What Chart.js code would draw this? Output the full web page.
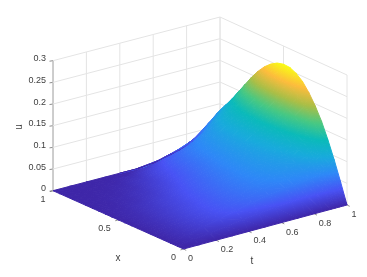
<!DOCTYPE html>
<html>
<head>
<meta charset="utf-8">
<style>html,body{margin:0;padding:0;background:#fff}canvas{display:block}</style>
<script src="https://cdn.jsdelivr.net/npm/chart.js@4/dist/chart.umd.min.js"></script>
</head>
<body>
<canvas id="c" width="367" height="277"></canvas>
<script>
// grid of the surface
const xValues = [0, 0.05, 0.1, 0.15, 0.2, 0.25, 0.3, 0.35, 0.4, 0.45, 0.5, 0.55, 0.6, 0.65, 0.7, 0.75, 0.8, 0.85, 0.9, 0.95, 1]
const tValues = [0, 0.1, 0.2, 0.3, 0.4, 0.5, 0.6, 0.7, 0.75, 0.8, 0.85, 0.9, 0.925, 0.95, 0.975, 1]
// one row per t, one column per x
const uRows = [
	[0, 0, 0, 0, 0, 0, 0, 0, 0, 0, 0, 0, 0, 0, 0, 0, 0, 0, 0, 0, 0],
	[0, 0.005, 0.008, 0.009, 0.009, 0.009, 0.008, 0.008, 0.007, 0.006, 0.005, 0.004, 0.003, 0.002, 0.001, 0.001, 0.0005, 0.0002, 0, 0, 0],
	[0, 0.01, 0.017, 0.019, 0.02, 0.02, 0.019, 0.018, 0.016, 0.015, 0.013, 0.011, 0.008, 0.006, 0.005, 0.003, 0.002, 0.001, 0.0005, 0.0002, 0],
	[0, 0.015, 0.026, 0.029, 0.03, 0.03, 0.029, 0.027, 0.026, 0.024, 0.022, 0.019, 0.016, 0.013, 0.011, 0.008, 0.006, 0.004, 0.002, 0.001, 0],
	[0, 0.021, 0.035, 0.039, 0.04, 0.04, 0.039, 0.038, 0.037, 0.035, 0.033, 0.03, 0.027, 0.024, 0.021, 0.018, 0.015, 0.011, 0.007, 0.002, 0],
	[0, 0.025, 0.043, 0.048, 0.05, 0.051, 0.051, 0.05, 0.049, 0.047, 0.045, 0.043, 0.04, 0.038, 0.035, 0.033, 0.03, 0.025, 0.018, 0.01, 0],
	[0, 0.029, 0.05, 0.056, 0.06, 0.061, 0.062, 0.062, 0.061, 0.06, 0.059, 0.057, 0.055, 0.053, 0.052, 0.05, 0.047, 0.041, 0.03, 0.017, 0.003],
	[0, 0.032, 0.055, 0.063, 0.068, 0.072, 0.074, 0.075, 0.075, 0.075, 0.074, 0.073, 0.072, 0.071, 0.069, 0.067, 0.063, 0.055, 0.042, 0.028, 0.012],
	[0, 0.033, 0.058, 0.067, 0.073, 0.077, 0.079, 0.081, 0.082, 0.082, 0.082, 0.082, 0.081, 0.08, 0.078, 0.076, 0.072, 0.064, 0.052, 0.034, 0.017],
	[0, 0.034, 0.06, 0.07, 0.077, 0.082, 0.085, 0.087, 0.089, 0.09, 0.091, 0.091, 0.091, 0.09, 0.088, 0.086, 0.082, 0.074, 0.062, 0.042, 0.024],
	[0, 0.035, 0.062, 0.074, 0.083, 0.089, 0.093, 0.097, 0.1, 0.102, 0.104, 0.105, 0.105, 0.104, 0.102, 0.1, 0.095, 0.087, 0.075, 0.054, 0.036],
	[0, 0.037, 0.066, 0.083, 0.096, 0.105, 0.112, 0.118, 0.123, 0.127, 0.129, 0.129, 0.128, 0.126, 0.122, 0.118, 0.112, 0.103, 0.09, 0.072, 0.052],
	[0, 0.038, 0.07, 0.091, 0.108, 0.12, 0.13, 0.138, 0.145, 0.15, 0.152, 0.151, 0.148, 0.143, 0.137, 0.13, 0.122, 0.111, 0.098, 0.08, 0.06],
	[0, 0.04, 0.075, 0.1, 0.122, 0.138, 0.152, 0.163, 0.172, 0.178, 0.18, 0.178, 0.174, 0.167, 0.158, 0.147, 0.135, 0.121, 0.106, 0.088, 0.068],
	[0, 0.043, 0.083, 0.118, 0.148, 0.172, 0.192, 0.207, 0.218, 0.224, 0.226, 0.223, 0.216, 0.205, 0.19, 0.174, 0.156, 0.137, 0.116, 0.096, 0.077],
	[0, 0.046, 0.09, 0.13, 0.166, 0.195, 0.219, 0.238, 0.25, 0.257, 0.258, 0.254, 0.245, 0.232, 0.215, 0.195, 0.172, 0.149, 0.126, 0.105, 0.085]
]
const zTicks = ['0', '0.05', '0.1', '0.15', '0.2', '0.25', '0.3']
const xTicks = ['0', '0.5', '1']
const tTicks = ['0', '0.2', '0.4', '0.6', '0.8', '1']
const zMax = 0.3

const gridColor = '#e4e4e4'
const axisColor = '#6e6e6e'
const textColor = '#404040'

// floor corners of the box on the page: [x=0,t=0] [x=1,t=0] [x=0,t=1] [x=1,t=1]
const corners = [[183.5, 249], [53, 190.7], [347, 205], [220, 147]]
const boxHeight = 130

function project(x, t, u) {
	let px = (1-x)*(1-t)*corners[0][0] + x*(1-t)*corners[1][0] + (1-x)*t*corners[2][0] + x*t*corners[3][0]
	let py = (1-x)*(1-t)*corners[0][1] + x*(1-t)*corners[1][1] + (1-x)*t*corners[2][1] + x*t*corners[3][1]
	return {x: px, y: py - u/zMax*boxHeight}
}

// parula
const parula = [
	[0, 62, 38, 168], [0.125, 72, 82, 244], [0.25, 46, 135, 247], [0.375, 24, 170, 220],
	[0.5, 10, 186, 185], [0.625, 72, 200, 130], [0.75, 170, 190, 70], [0.875, 252, 188, 60], [1, 249, 251, 20]
]
function parulaAt(v) {
	v = Math.min(1, Math.max(0, v))
	for (let i = 1; i < parula.length; i++) {
		if (v <= parula[i][0]) {
			let a = parula[i-1], b = parula[i], f = (v-a[0])/(b[0]-a[0])
			return 'rgb(' + [1,2,3].map(k => Math.round(a[k] + (b[k]-a[k])*f)).join(',') + ')'
		}
	}
	return 'rgb(249,251,20)'
}

const canvas = document.getElementById('c')
const ctx2d = canvas.getContext('2d')
const uMax = Math.max(...uRows.map(r => Math.max(...r)))

// gradient over one triangle so colour follows u across it, runs past the
// triangle up to the whole colormap so the border stays on the same plane
function triangleFill(pts, vals) {
	let mid = parulaAt((vals[0]+vals[1]+vals[2])/3/uMax)
	let ax = pts[1].x-pts[0].x, ay = pts[1].y-pts[0].y, bx = pts[2].x-pts[0].x, by = pts[2].y-pts[0].y
	let det = ax*by - ay*bx
	if (Math.abs(det) < 0.01) return mid
	let dv1 = vals[1]-vals[0], dv2 = vals[2]-vals[0]
	let gx = (dv1*by - dv2*ay)/det, gy = (ax*dv2 - bx*dv1)/det
	let g2 = gx*gx + gy*gy
	if (Math.sqrt(g2)*uMax < 1e-5 || g2 === 0) return mid
	let s = pts[0], v0 = vals[0]
	let grad = ctx2d.createLinearGradient(
		s.x - gx/g2*v0, s.y - gy/g2*v0,
		s.x + gx/g2*(uMax-v0), s.y + gy/g2*(uMax-v0))
	parula.forEach(p => grad.addColorStop(p[0], parulaAt(p[0])))
	return grad
}

function lineSet(pts, color, width) {
	return {data: pts, showLine: true, fill: false, borderColor: color, borderWidth: width, pointRadius: 0, tension: 0, order: 1000}
}

let datasets = []

// surface, far cells first (larger order draws first)
let cells = []
for (let i = 0; i < tValues.length-1; i++) {
	for (let j = 0; j < xValues.length-1; j++) {
		let id = (a, b) => ({x: xValues[b], t: tValues[a], u: uRows[a][b]})
		let A = id(i, j), B = id(i, j+1), C = id(i+1, j), D = id(i+1, j+1)
		cells.push([C, D, B], [C, B, A])
	}
}
cells.forEach(tri => {
	let pts = tri.map(v => project(v.x, v.t, v.u))
	let vals = tri.map(v => v.u)
	let fillStyle = triangleFill(pts, vals)
	let depth = tri.reduce((s, v) => s + v.x + v.t, 0)
	datasets.push({data: pts.concat([pts[0]]), showLine: true, fill: 'shape', backgroundColor: fillStyle,
		borderColor: fillStyle, borderWidth: 1, borderJoinStyle: 'round', pointRadius: 0, tension: 0, depth: depth})
})
datasets.sort((a, b) => b.depth - a.depth)
datasets.forEach((d, n) => d.order = n - datasets.length)

// back walls
zTicks.forEach(z => {
	let u = +z
	datasets.push(lineSet([project(1, 0, u), project(1, 1, u), project(0, 1, u)], gridColor, 1))
})
tTicks.forEach(tk => {
	datasets.push(lineSet([project(1, +tk, 0), project(1, +tk, zMax)], gridColor, 1))
})
xTicks.forEach(xk => {
	datasets.push(lineSet([project(+xk, 1, 0), project(+xk, 1, zMax)], gridColor, 1))
})
// axis lines and tick marks
datasets.push(lineSet([project(1, 0, 0), project(1, 0, zMax)], axisColor, 1))
zTicks.forEach(z => {
	let p = project(1, 0, +z)
	datasets.push(lineSet([p, {x: p.x-3.5, y: p.y+0.5}], axisColor, 0.8))
})
xTicks.forEach(xk => {
	let p = project(+xk, 0, 0)
	datasets.push(lineSet([p, {x: p.x-3, y: p.y+0.9}], axisColor, 0.8))
})
tTicks.forEach(tk => {
	let p = project(0, +tk, 0)
	datasets.push(lineSet([p, {x: p.x+2.7, y: p.y+1.3}], axisColor, 0.8))
})

const labelPlugin = {
	id: 'labels3d',
	afterDraw(chart) {
		let c = chart.ctx, sx = chart.scales.x, sy = chart.scales.y
		let text = (s, x, y, align, size) => {
			c.font = size + 'px "Liberation Sans"'
			c.textAlign = align
			c.textBaseline = 'middle'
			c.fillText(s, sx.getPixelForValue(x), sy.getPixelForValue(y))
		}
		c.save()
		c.fillStyle = textColor
		zTicks.forEach(z => { let p = project(1, 0, +z); text(z, p.x-7, p.y-2, 'right', 9) })
		xTicks.forEach(xk => { let p = project(+xk, 0, 0); text(xk, p.x-7.5, p.y+8.5, 'right', 9) })
		tTicks.forEach(tk => { let p = project(0, +tk, 0); text(tk, p.x+4.5, p.y+9.5, 'left', 9) })
		text('x', 118, 258, 'center', 10)
		text('t', 252, 261, 'center', 10)
		c.translate(sx.getPixelForValue(19), sy.getPixelForValue(127))
		c.rotate(-Math.PI/2)
		c.font = '10px "Liberation Sans"'
		c.textAlign = 'center'
		c.fillText('u', 0, 0)
		c.restore()
	}
}

new Chart(canvas, {
	type: 'scatter',
	data: {datasets: datasets},
	options: {
		responsive: false,
		animation: false,
		events: [],
		layout: {padding: 0},
		plugins: {legend: {display: false}, tooltip: {enabled: false}},
		scales: {
			x: {type: 'linear', display: false, min: 0, max: 367},
			y: {type: 'linear', display: false, min: 0, max: 277, reverse: true}
		}
	},
	plugins: [labelPlugin]
})
</script>
</body>
</html>
